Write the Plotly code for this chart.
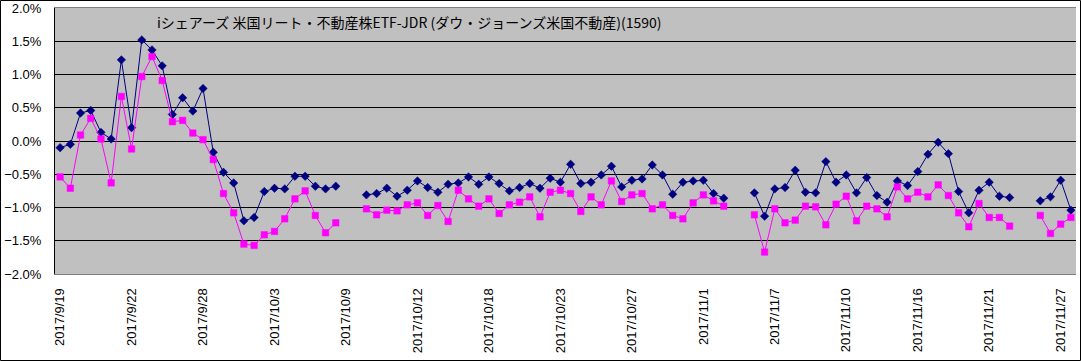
import plotly.graph_objects as go

# ---- data (percent) ----
title_text = "iシェアーズ 米国リート・不動産株ETF-JDR (ダウ・ジョーンズ米国不動産)(1590)"

tick_labels = ["2017/9/19", "2017/9/22", "2017/9/28", "2017/10/3", "2017/10/9",
               "2017/10/12", "2017/10/18", "2017/10/23", "2017/10/27", "2017/11/1",
               "2017/11/7", "2017/11/10", "2017/11/16", "2017/11/21", "2017/11/27"]
label_step = 7

series_navy = [
    -0.10, -0.05, 0.42, 0.46, 0.13, 0.03, 1.22, 0.20, 1.52, 1.37,
    1.13, 0.40, 0.65, 0.45, 0.79, -0.17, -0.47, -0.63, -1.20, -1.15,
    -0.76, -0.71, -0.72, -0.53, -0.53, -0.68, -0.72, -0.68, None, None,
    -0.81, -0.79, -0.71, -0.83, -0.74, -0.60, -0.70, -0.77, -0.65, -0.63,
    -0.54, -0.65, -0.54, -0.64, -0.75, -0.70, -0.64, -0.71, -0.56, -0.62,
    -0.35, -0.64, -0.62, -0.51, -0.38, -0.69, -0.59, -0.57, -0.36, -0.51,
    -0.80, -0.62, -0.60, -0.59, -0.79, -0.86, None, None, -0.78, -1.13,
    -0.72, -0.70, -0.44, -0.77, -0.78, -0.31, -0.62, -0.51, -0.78, -0.55,
    -0.82, -0.92, -0.60, -0.67, -0.46, -0.20, -0.02, -0.19, -0.76, -1.08,
    -0.74, -0.62, -0.83, -0.85, None, None, -0.90, -0.84, -0.59, -1.04,
]

series_magenta = [
    -0.54, -0.71, 0.09, 0.34, 0.03, -0.63, 0.67, -0.12, 0.97, 1.27,
    0.91, 0.29, 0.31, 0.12, 0.02, -0.28, -0.79, -1.08, -1.55, -1.57,
    -1.41, -1.36, -1.17, -0.87, -0.75, -1.12, -1.38, -1.23, None, None,
    -1.02, -1.11, -1.04, -1.05, -0.96, -0.93, -1.12, -0.97, -1.21, -0.74,
    -0.87, -0.98, -0.87, -1.09, -0.96, -0.92, -0.84, -1.14, -0.77, -0.74,
    -0.79, -1.06, -0.84, -0.96, -0.60, -0.91, -0.81, -0.79, -1.02, -0.96,
    -1.12, -1.17, -0.93, -0.81, -0.90, -0.98, None, None, -1.11, -1.67,
    -1.02, -1.23, -1.19, -0.98, -0.99, -1.26, -0.95, -0.83, -1.20, -0.98,
    -1.02, -1.14, -0.69, -0.87, -0.77, -0.84, -0.66, -0.82, -1.08, -1.29,
    -0.94, -1.15, -1.15, -1.28, None, None, -1.12, -1.39, -1.25, -1.15,
]

# ---- figure ----
W, H = 1081, 361
ML, MR, MT, MB = 55, 5, 8, 87
n = len(series_navy)
x = list(range(n))
tickvals = list(range(0, n, label_step))[:len(tick_labels)]

fig = go.Figure()
fig.add_trace(go.Scatter(
    x=x, y=series_navy, mode="lines+markers", connectgaps=False,
    line=dict(color="#000080", width=1),
    marker=dict(symbol="diamond", size=6.5, color="#000080",
                line=dict(color="#000080", width=0.5)),
    showlegend=False, hoverinfo="skip"))
fig.add_trace(go.Scatter(
    x=x, y=series_magenta, mode="lines+markers", connectgaps=False,
    line=dict(color="#FF00FF", width=1),
    marker=dict(symbol="square", size=6.5, color="#FF00FF",
                line=dict(color="#FF00FF", width=0.5)),
    showlegend=False, hoverinfo="skip"))

axis_font = dict(family="Liberation Sans, Arial, sans-serif", size=13, color="black")

pw = W - ML - MR
ph = H - MT - MB

fig.update_layout(
    width=W, height=H,
    margin=dict(l=ML, r=MR, t=MT, b=MB, pad=0, autoexpand=False),
    paper_bgcolor="white", plot_bgcolor="#C0C0C0",
    title=dict(text=title_text, x=(157 - ML) / pw, xref="paper", xanchor="left",
               y=1 - 23 / H, yref="container", yanchor="middle",
               font=dict(family="Noto Sans CJK JP", size=14, color="black")),
    xaxis=dict(range=[-0.5, n - 0.5], tickmode="array", tickvals=tickvals,
               ticktext=tick_labels, tickangle=-90, showgrid=False, zeroline=False,
               showline=True, linecolor="#808080", linewidth=1, mirror=True,
               ticks="", tickfont=axis_font, ticklabelstandoff=8, automargin=False),
    xaxis2=dict(overlaying="x", anchor="free", position=0.5, side="bottom",
                range=[-0.5, n - 0.5], tickmode="array",
                tickvals=[k - 0.5 for k in range(n + 1)],
                ticks="inside", ticklen=4, tickwidth=1, tickcolor="black",
                showticklabels=False, showline=True, linecolor="black", linewidth=1,
                showgrid=False, zeroline=False),
    yaxis=dict(range=[-2, 2], dtick=0.5, tick0=0, tickformat=".1f", ticksuffix="%",
               showgrid=True, gridcolor="black", gridwidth=1, zeroline=False,
               showline=True, linecolor="black", linewidth=1, ticks="",
               tickfont=axis_font, ticklabelstandoff=10, automargin=False),
    yaxis2=dict(overlaying="y", side="right", range=[-2, 2], showline=True,
                linecolor="#808080", linewidth=1, showgrid=False, zeroline=False,
                showticklabels=False, ticks=""),
)

# chart outer border
fig.add_shape(type="rect", xref="paper", yref="paper", layer="above",
              x0=(0.5 - ML) / pw, x1=(W - 0.5 - ML) / pw,
              y0=-(MB - 0.5) / ph, y1=1 + (MT - 0.5) / ph,
              line=dict(color="black", width=1), fillcolor="rgba(0,0,0,0)")

fig.write_html("out.html", config={"displayModeBar": False},
               post_script="document.body.style.margin='0';document.body.style.padding='0';"
                           "document.documentElement.style.overflow='hidden';")
